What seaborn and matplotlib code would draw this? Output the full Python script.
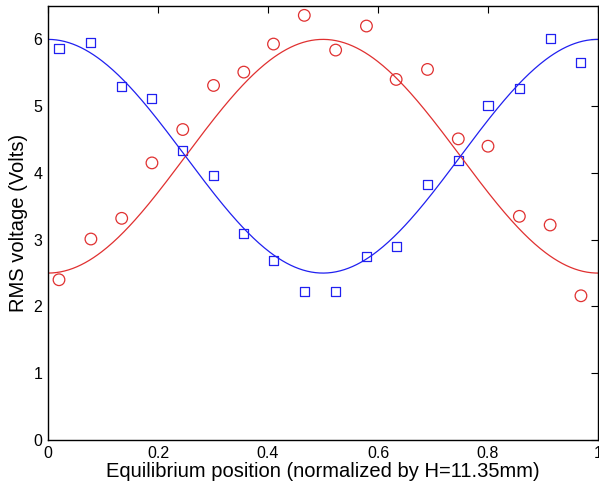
import numpy as np
import pandas as pd
import matplotlib
matplotlib.use("Agg")
import matplotlib.pyplot as plt
import seaborn as sns

# measured positions (normalized)
positions = [0.020, 0.078, 0.134, 0.189, 0.245, 0.301, 0.356, 0.410, 0.466,
             0.523, 0.579, 0.633, 0.690, 0.746, 0.800, 0.857, 0.913, 0.969]
# red circles
red_volts = [2.40, 3.01, 3.32, 4.15, 4.65, 5.31, 5.51, 5.93, 6.36,
             5.84, 6.20, 5.40, 5.55, 4.51, 4.40, 3.35, 3.22, 2.16]
# blue squares
blue_volts = [5.87, 5.96, 5.29, 5.12, 4.34, 3.96, 3.10, 2.69, 2.22,
              2.23, 2.75, 2.90, 3.83, 4.19, 5.01, 5.27, 6.02, 5.66]

# cosine fit parameters (mean, amplitude)
fit_mean = 4.25
fit_amp = 1.75

x_ticks = [0, 0.2, 0.4, 0.6, 0.8, 1]
x_ticklabels = ["0", "0.2", "0.4", "0.6", "0.8", "1"]
y_ticks = [0, 1, 2, 3, 4, 5, 6]

sns.set_style("white")
plt.rcParams['font.family'] = ['Liberation Sans', 'DejaVu Sans']
plt.rcParams['text.color'] = 'black'
plt.rcParams['axes.labelcolor'] = 'black'

fig = plt.figure(figsize=(5.99, 4.88), dpi=100)
ax = fig.add_axes([48/599, 48/488, 550/599, 434/488])

xf = np.linspace(0, 1, 400)
fit_df = pd.DataFrame({
    "x": xf,
    "red": fit_mean - fit_amp * np.cos(2 * np.pi * xf),
    "blue": fit_mean + fit_amp * np.cos(2 * np.pi * xf),
})
pts = pd.DataFrame({"x": positions, "red": red_volts, "blue": blue_volts})

red_c = "#e03030"
blue_c = "#2020f0"

sns.lineplot(data=fit_df, x="x", y="red", ax=ax, color=red_c, lw=0.9)
sns.lineplot(data=fit_df, x="x", y="blue", ax=ax, color=blue_c, lw=0.9)
sns.scatterplot(data=pts, x="x", y="red", ax=ax, marker="o", s=70,
                facecolor="none", edgecolor=red_c, linewidth=0.9)
sns.scatterplot(data=pts, x="x", y="blue", ax=ax, marker="s", s=42,
                facecolor="none", edgecolor=blue_c, linewidth=0.9)

ax.set_xlim(0, 1)
ax.set_ylim(0, 6.5)
ax.set_xticks(x_ticks)
ax.set_xticklabels(x_ticklabels)
ax.set_yticks(y_ticks)
ax.tick_params(direction="in", length=5, width=0.8, top=True, right=True,
               labelsize=11.5, colors="black", pad=4)
for s in ax.spines.values():
    s.set_linewidth(1.0)
    s.set_color("black")
ax.set_xlabel("Equilibrium position (normalized by H=11.35mm)", fontsize=14.5, labelpad=1)
ax.set_ylabel("RMS voltage (Volts)", fontsize=14.5, labelpad=4)

fig.savefig("out.png", dpi=100)
